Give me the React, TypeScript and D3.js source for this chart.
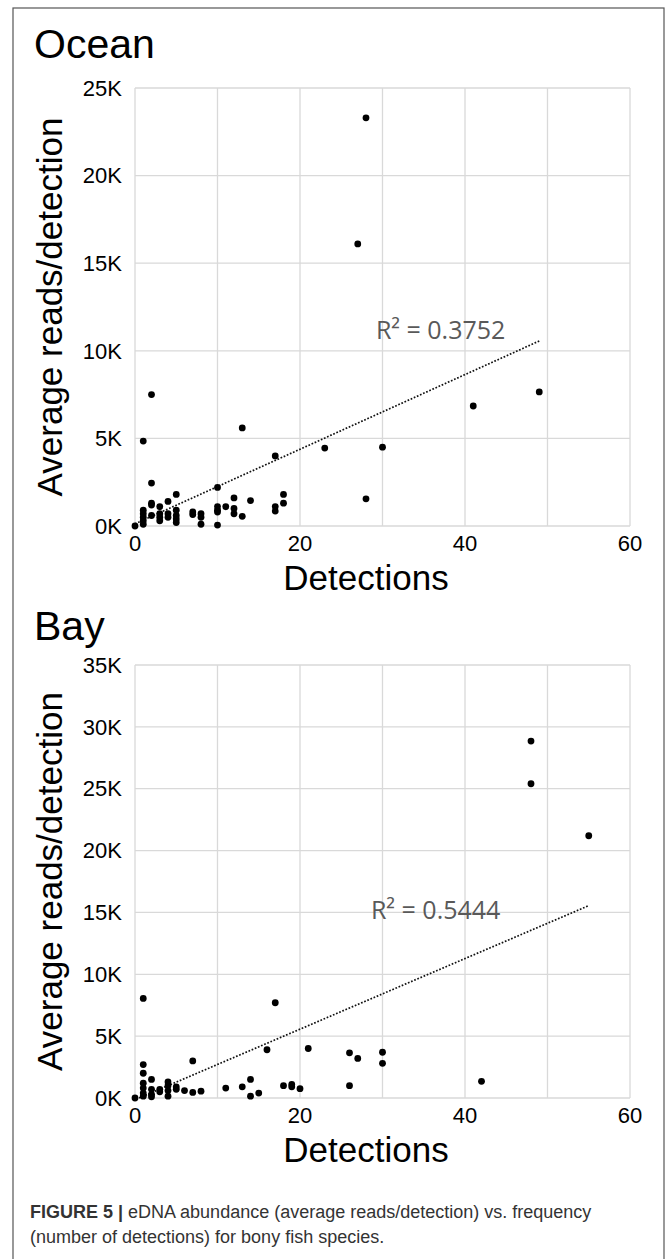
import * as d3 from "d3";

const W = 672;
const H = 1259;

// ocean: detections vs average reads per detection
const oceanDetections = [0, 1, 2, 2, 1, 1, 1, 1, 1, 2, 2, 2, 3, 3, 3, 3, 4, 4, 4, 5, 5, 5, 5, 5, 7, 7, 8, 8, 8, 10, 10, 10, 10, 10, 11, 12, 12, 12, 13, 13, 14, 17, 17, 17, 18, 18, 23, 27, 28, 28, 30, 41, 49];
const oceanReads = [0, 4850, 7500, 2450, 100, 300, 500, 700, 900, 1300, 1200, 600, 300, 500, 700, 1100, 500, 700, 1400, 1800, 900, 600, 400, 200, 800, 650, 700, 500, 100, 2200, 1100, 900, 800, 50, 1100, 1600, 1000, 700, 550, 5600, 1450, 4000, 1100, 850, 1800, 1300, 4450, 16100, 23300, 1550, 4500, 6850, 7650];
const oceanTrend = [[0, 120], [49, 10560]];
const oceanR2 = "R² = 0.3752";

// bay
const bayDetections = [0, 1, 1, 1, 1, 1, 1, 1, 2, 2, 2, 2, 3, 3, 4, 4, 4, 4, 5, 5, 6, 7, 7, 8, 11, 13, 14, 14, 15, 16, 17, 18, 19, 19, 20, 21, 26, 26, 27, 30, 30, 42, 48, 48, 55];
const bayReads = [0, 8050, 2700, 2000, 1200, 800, 400, 150, 1500, 700, 300, 100, 500, 700, 1300, 1000, 600, 150, 900, 700, 600, 3000, 450, 550, 800, 900, 1500, 150, 400, 3900, 7700, 1000, 900, 1100, 750, 4000, 3650, 1000, 3200, 3700, 2800, 1350, 28850, 25400, 21200];
const bayTrend = [[0.5, 0], [55, 15550]];
const bayR2 = "R² = 0.5444";

const xTickLabels = [0, 20, 40, 60];
const xGrid = [0, 10, 20, 30, 40, 50, 60];

const LEFT = 135;
const RIGHT = 630;

const Panel = ({ title, titleY, top, bottom, yMax, xs, ys, trend, r2, r2At }) => {
  const x = d3.scaleLinear().domain([0, 60]).range([LEFT, RIGHT]);
  const y = d3.scaleLinear().domain([0, yMax]).range([bottom, top]);
  const yTicks = d3.range(0, yMax + 1, 5000);
  const line = d3.line().x((d) => x(d[0])).y((d) => y(d[1]));

  return (
    <g>
      <text x={34} y={titleY} fontSize={41} fontFamily="Liberation Sans, Arial, sans-serif" fill="#000">
        {title}
      </text>
      {yTicks.map((t) => (
        <line key={"h" + t} x1={LEFT} x2={RIGHT} y1={y(t)} y2={y(t)} stroke="#d9d9d9" strokeWidth={1.3} />
      ))}
      {xGrid.map((t) => (
        <line key={"v" + t} x1={x(t)} x2={x(t)} y1={top} y2={bottom} stroke="#d9d9d9" strokeWidth={1.3} />
      ))}
      {yTicks.map((t) => (
        <text key={"yl" + t} x={LEFT - 13} y={y(t)} dy="0.35em" textAnchor="end" fontSize={22}
          fontFamily="Liberation Sans, Arial, sans-serif">
          {t / 1000 + "K"}
        </text>
      ))}
      {xTickLabels.map((t) => (
        <text key={"xl" + t} x={x(t)} y={bottom + 25} textAnchor="middle" fontSize={22}
          fontFamily="Liberation Sans, Arial, sans-serif">
          {t}
        </text>
      ))}
      <text x={366} y={bottom + 64} textAnchor="middle" fontSize={35} fontFamily="Liberation Sans, Arial, sans-serif">
        Detections
      </text>
      <text transform={`translate(62,${(top + bottom) / 2}) rotate(-90)`} textAnchor="middle" fontSize={35}
        fontFamily="Liberation Sans, Arial, sans-serif">
        Average reads/detection
      </text>
      <path d={line(trend)} fill="none" stroke="#111" strokeWidth={1.7} strokeDasharray="1.7,1.7" />
      {xs.map((d, i) => (
        <circle key={i} cx={x(d)} cy={y(ys[i])} r={3.4} fill="#000" />
      ))}
      <text x={x(r2At[0])} y={y(r2At[1])} fontSize={25} fill="#595959" fontFamily="Open Sans, sans-serif">
        {r2}
      </text>
    </g>
  );
};

export default function App() {
  return (
    <svg width={W} height={H} style={{ position: "absolute", left: 0, top: 0, background: "#fff" }}>
      <rect x={13} y={8} width={651} height={1262} fill="#fff" stroke="#555" strokeWidth={1.2} />
      <Panel title="Ocean" titleY={58} top={88} bottom={526} yMax={25000}
        xs={oceanDetections} ys={oceanReads} trend={oceanTrend} r2={oceanR2} r2At={[29.2, 10690]} />
      <Panel title="Bay" titleY={640} top={665} bottom={1098} yMax={35000}
        xs={bayDetections} ys={bayReads} trend={bayTrend} r2={bayR2} r2At={[28.6, 14460]} />
      <text x={30} y={1218} fontSize={18} fill="#333" fontFamily="Liberation Sans, Arial, sans-serif">
        <tspan fontWeight="bold">FIGURE 5 | </tspan>
        <tspan>eDNA abundance (average reads/detection) vs. frequency</tspan>
      </text>
      <text x={30} y={1243} fontSize={18} fill="#333" fontFamily="Liberation Sans, Arial, sans-serif">
        (number of detections) for bony fish species.
      </text>
    </svg>
  );
}
